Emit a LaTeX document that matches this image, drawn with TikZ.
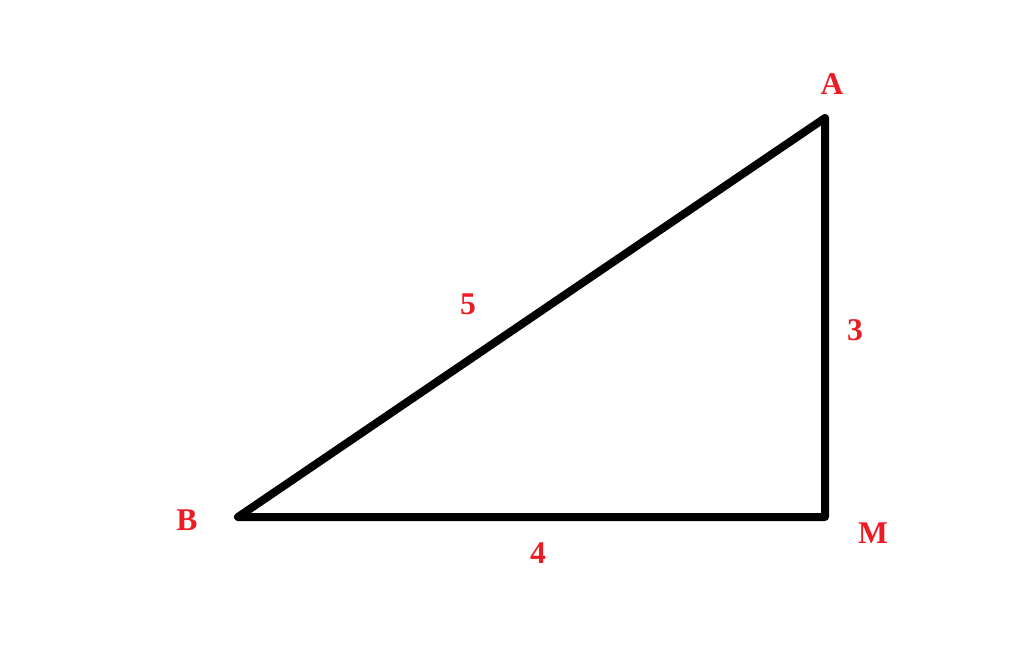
\documentclass[tikz,border=0pt]{standalone}
\usepackage{fontspec}
\setmainfont{Liberation Serif}
\definecolor{paintred}{RGB}{237,28,36}
\begin{document}
\begin{tikzpicture}[x = 0.02cm, y = -0.02cm,
        side/.style = {black, line width = 0.16cm, line join = round, line cap = round},
        vlabel/.style = {text = paintred, font = \bfseries\fontsize{18}{22}\selectfont, inner sep = 0pt}]
            \useasboundingbox (0, 0) rectangle (1024, 645);

            \coordinate (A) at (825, 118);
            \coordinate (B) at (238, 517);
            \coordinate (M) at (825, 517);

            \draw[side] (A) -- (B) -- (M) -- cycle;

            \node[vlabel] (lA) at (832, 84) {A};
            \node[vlabel] (lB) at (187, 520) {B};
            \node[vlabel] (lM) at (873, 533) {M};
            \node[vlabel] (l5) at (468, 304) {5};
            \node[vlabel] (l3) at (855, 330) {3};
            \node[vlabel] (l4) at (538, 553) {4};

        \end{tikzpicture}
\end{document}
